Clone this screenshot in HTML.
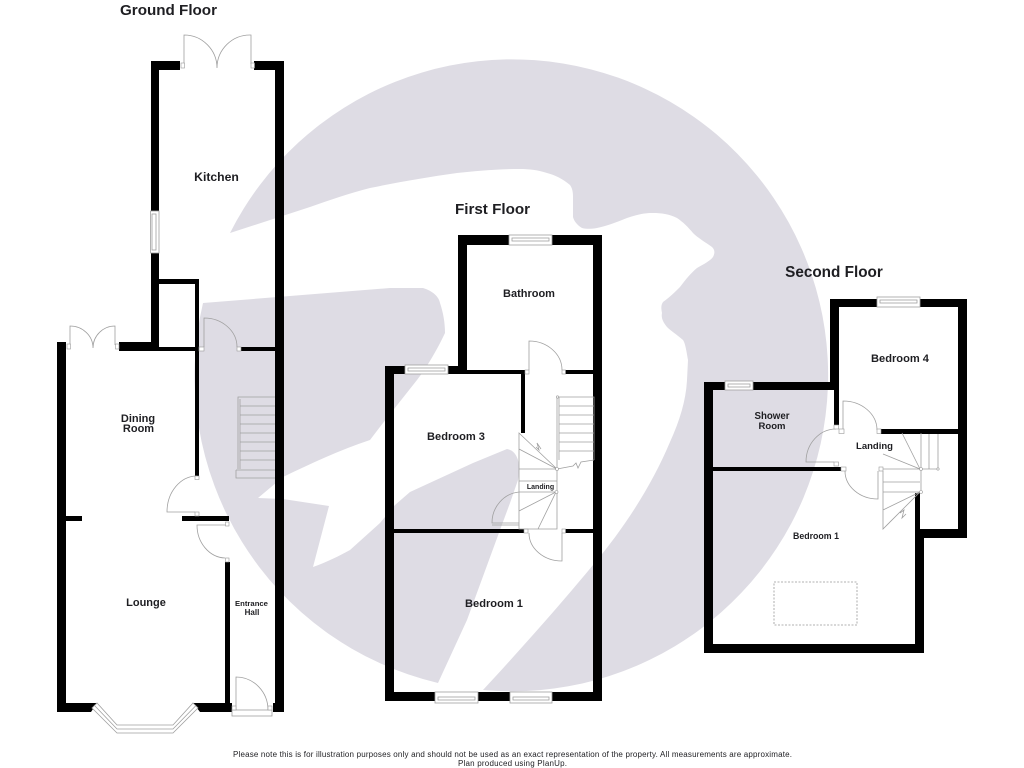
<!DOCTYPE html>
<html><head><meta charset="utf-8"><style>
html,body{margin:0;padding:0;background:#fff}
svg{display:block}
text{font-family:"Liberation Sans",Arial,sans-serif;font-weight:bold;fill:#1e1e22;text-anchor:middle}
.t{fill:#fff;stroke:#a0a0a0;stroke-width:.8}
.l{fill:none;stroke:#a0a0a0;stroke-width:.8}
.s{fill:#fff;stroke:#999;stroke-width:.6}
</style></head><body>
<svg width="1024" height="768" viewBox="0 0 1024 768" xmlns="http://www.w3.org/2000/svg">
<rect width="1024" height="768" fill="#fff"/>
<!-- watermark -->
<path fill="#dedce4" d="M230,233 A316,316 0 1 1 483,690 C520,650 560,605 593,565 C625,527 652,485 670,442 C680,420 686,400 687,380 L688,360 C686,348 685,343 683,340 C676,334 671,331 667,327 C663,322 661,318 662,313 C661,308 661,305 663,302 C670,297 675,292 680,287 C686,279 691,273 697,268 C704,264 710,261 713,257 C715,253 715,250 712,247 C705,242 698,238 693,233 C688,227 683,222 677,218 C669,214 661,213 653,213 C643,213 636,215 627,218 C617,222 607,226 597,228 C591,229 586,229 582,228 C577,225 574,221 573,217 L573,197 C573,191 572,188 570,185 C563,179 555,175 547,173 C538,170 529,169 520,169 C497,169 477,171 457,173 C428,177 399,182 370,188 C350,193 330,200 310,207 Z"/>
<path fill="#dedce4" d="M203,303 L390,288 L423,288 C433,291 439,297 440,303 C443,312 445,322 445,333 C437,350 427,367 417,380 L383,423 L370,440 C340,450 312,463 283,477 L258,498 L283,499 L329,506 L313,567 C327,562 339,556 350,550 L380,523 L395,505 L410,492 L473,463 L507,449 C513,450 516,454 518,460 C520,467 519,474 518,480 L510,503 L500,530 L467,620 L438,683 A316,316 0 0 1 203,303 Z"/>

<!-- GROUND FLOOR walls -->
<g fill="#000">
<path d="M151,61 H180 V70 H159 V211 H151 Z"/>
<rect x="151" y="253" width="8" height="97"/>
<path d="M254,61 H284 V712 H273 V703 H275 V70 H254 Z"/>
<rect x="159" y="279" width="40" height="5"/>
<rect x="195" y="279" width="4" height="197"/>
<rect x="119" y="342" width="40" height="9"/>
<rect x="159" y="347" width="36" height="4"/>
<rect x="241" y="347" width="34" height="4"/>
<path d="M57,342 H66 V703 H97 L91,712 H57 Z"/>
<rect x="66" y="516" width="16" height="5"/>
<rect x="182" y="516" width="47" height="5"/>
<rect x="225" y="562" width="5" height="141"/>
<path d="M193,703 H232 V712 H200 Z"/>
</g>
<!-- ground floor fittings -->
<rect class="t" x="150.500" y="211" width="8.500" height="42"/>
<rect class="l" x="152" y="214" width="4" height="36"/>
<path class="l" d="M184,64 V35 A33,33 0 0 1 217,68 M251,64 V35 A33,33 0 0 0 217,68"/>
<rect class="s" x="181" y="63" width="3.500" height="5"/><rect class="s" x="251" y="63" width="3.500" height="5"/>
<path class="l" d="M70,345 V326 A23,22 0 0 1 93,348 M115,345 V326 A22,22 0 0 0 93,348"/>
<rect class="s" x="67" y="344" width="3.500" height="5"/><rect class="s" x="115.500" y="344" width="3.500" height="5"/>
<path class="l" d="M204,347 V318 A33,29 0 0 1 237,347"/>
<rect class="s" x="199" y="347" width="5" height="4"/><rect class="s" x="237" y="347" width="4" height="4"/>
<path class="l" d="M197,476 A30,36 0 0 0 167,512 H195"/>
<rect class="s" x="195" y="476" width="4" height="3.500"/><rect class="s" x="195" y="512" width="4" height="4"/>
<path class="l" d="M226,525 H197 A29,33 0 0 0 225,558"/>
<rect class="s" x="225.500" y="522" width="3.500" height="4"/><rect class="s" x="225.500" y="558" width="3.500" height="4"/>
<!-- bay window -->
<path fill="#fff" stroke="#a0a0a0" stroke-width=".8" d="M92,708 L117,733 H173 L198,708 L193,703 L173,725 H117 L97,703 Z"/>
<path class="l" d="M95,706 L117,729 H173 L195.500,706"/>
<!-- front door -->
<rect class="t" x="232" y="710" width="40" height="6"/>
<path class="l" d="M236,710 V677 A32,33 0 0 1 268,710"/>
<rect class="s" x="232" y="706" width="4" height="4"/><rect class="s" x="268" y="706" width="4" height="4"/>
<!-- ground stairs -->
<path class="l" d="M238,469 V397 H275 M240,469 V399 M240,406 H275 M240,415 H275 M240,424 H275 M240,433 H275 M240,442 H275 M240,451 H275 M240,460 H275 M236,470 H275 M236,470 V478 H275"/>

<!-- FIRST FLOOR walls -->
<g fill="#000">
<path d="M458,235 H509 V245 H467 V370 H458 Z"/>
<path d="M552,235 H602 V701 H552 V692 H593 V245 H552 Z"/>
<path d="M385,366 H405 V374 H394 V692 H435 V701 H385 Z"/>
<rect x="448" y="366" width="19" height="8"/>
<rect x="448" y="370" width="76" height="4"/>
<rect x="521" y="370" width="4" height="63"/>
<rect x="565" y="370" width="28" height="4"/>
<rect x="394" y="529" width="130" height="4"/>
<rect x="565" y="529" width="28" height="4"/>
<rect x="478" y="692" width="32" height="9"/>
</g>
<g>
<rect class="t" x="509" y="235" width="43" height="10"/><rect class="l" x="512" y="238" width="37" height="3"/>
<rect class="t" x="405" y="365" width="43" height="9"/><rect class="l" x="408" y="368" width="37" height="3"/>
<rect class="t" x="435" y="692" width="43" height="11"/><rect class="l" x="438" y="697" width="37" height="3"/>
<rect class="t" x="510" y="692" width="42" height="11"/><rect class="l" x="513" y="697" width="36" height="3"/>
</g>
<path class="l" d="M529,370 V341 A33,29 0 0 1 562,370"/>
<rect class="s" x="525" y="370" width="4" height="4"/><rect class="s" x="562" y="370" width="3.500" height="4"/>
<path class="l" d="M562,533 V561 A33,28 0 0 1 529,533"/>
<rect class="s" x="524" y="529" width="4" height="4"/><rect class="s" x="562" y="529" width="3.500" height="4"/>
<!-- first floor stairs -->
<path class="l" d="M557,397 H594 V460 M559,397 V460 M557,397 V529 H519 V433 L557,469 M559,406 H594 M559,415 H594 M559,424 H594 M559,433 H594 M559,442 H594 M559,451 H594 M557,469 L573,466 L576,463 L578,468 L581,462 L594,460 M519,449 L557,469 M519,469 H557 M519,481 H557 M519,492 H557 M519,511 L556,492 M538,529 L556,492 M536,447 L539,450 L537,443 L541,449"/>
<path class="l" d="M519,523 H492 A30,31 0 0 1 519,492 M519,525 H492"/>
<circle class="s" cx="557" cy="469" r="1.500"/><circle class="s" cx="556.500" cy="492" r="1.500"/><circle class="s" cx="557.500" cy="397" r="1.200"/>

<!-- SECOND FLOOR walls -->
<g fill="#000">
<path d="M830,299 H877 V307 H839 V425 H834 V390 H753 V382 H830 Z"/>
<path d="M920,299 H967 V538 H924 V653 H704 V382 H725 V390 H713 V644 H915 V538 H915 V493 H920 V529 H958 V307 H920 Z"/>
<rect x="881" y="429" width="77" height="5"/>
<rect x="713" y="467" width="128" height="4"/>
</g>
<rect class="t" x="877" y="297" width="43" height="10"/><rect class="l" x="880" y="300" width="37" height="3"/>
<rect class="t" x="725" y="381" width="28" height="9"/><rect class="l" x="728" y="384" width="22" height="3"/>
<path class="l" d="M836,429 A30,33 0 0 0 806,462 H834"/>
<rect class="s" x="834" y="425" width="4.500" height="4"/><rect class="s" x="834" y="462" width="4.500" height="4"/>
<path class="l" d="M843,429 V401 A34,29 0 0 1 877,430"/>
<rect class="s" x="839" y="429" width="5" height="4.500"/><rect class="s" x="877" y="429" width="4" height="4.500"/>
<path class="l" d="M845,471 A33,28 0 0 0 878,499 V471"/>
<rect class="s" x="841" y="467" width="5" height="4"/><rect class="s" x="879" y="467" width="4" height="4"/>
<path class="l" d="M883,471 V529 L920,492 M883,482 H920 M883,492 H920 M883,510 L920,492 M921,433 V493 M920,469 L902,433 M920,469 L883,454 M883,469 H938 M929,434 V469 M938,434 V469 M900,513 L904,510 L902,518 L906,514"/>
<circle class="s" cx="921" cy="469" r="1.500"/><circle class="s" cx="921" cy="492" r="1.500"/><circle class="s" cx="938" cy="469" r="1.200"/>
<rect x="774" y="582" width="83" height="43" fill="none" stroke="#999" stroke-width=".8" stroke-dasharray="2 1.500"/>

<!-- LABELS -->
<text x="168.500" y="15" font-size="15.200">Ground Floor</text>
<text x="216.500" y="181" font-size="12.200">Kitchen</text>
<text x="138" y="422" font-size="11">Dining</text>
<text x="138.500" y="432" font-size="11">Room</text>
<text x="146" y="606" font-size="11">Lounge</text>
<text x="251.500" y="606" font-size="7.700">Entrance</text>
<text x="252" y="615" font-size="8">Hall</text>
<text x="492.500" y="214" font-size="15.200">First Floor</text>
<text x="834" y="277" font-size="15.300">Second Floor</text>
<text x="529" y="297" font-size="11">Bathroom</text>
<text x="456" y="440" font-size="11.100">Bedroom 3</text>
<text x="540.500" y="489" font-size="7">Landing</text>
<text x="494" y="607" font-size="11.100">Bedroom 1</text>
<text x="900" y="362" font-size="11.100">Bedroom 4</text>
<text x="772" y="419" font-size="9.700">Shower</text>
<text x="772" y="429" font-size="9.500">Room</text>
<text x="874.500" y="449" font-size="9.500">Landing</text>
<text x="816" y="539" font-size="8.800">Bedroom 1</text>
<text x="512.500" y="757" font-size="8" style="font-weight:normal" textLength="559">Please note this is for illustration purposes only and should not be used as an exact representation of the property. All measurements are approximate.</text>
<text x="512.500" y="766" font-size="8" style="font-weight:normal" textLength="109">Plan produced using PlanUp.</text>
</svg>
</body></html>
